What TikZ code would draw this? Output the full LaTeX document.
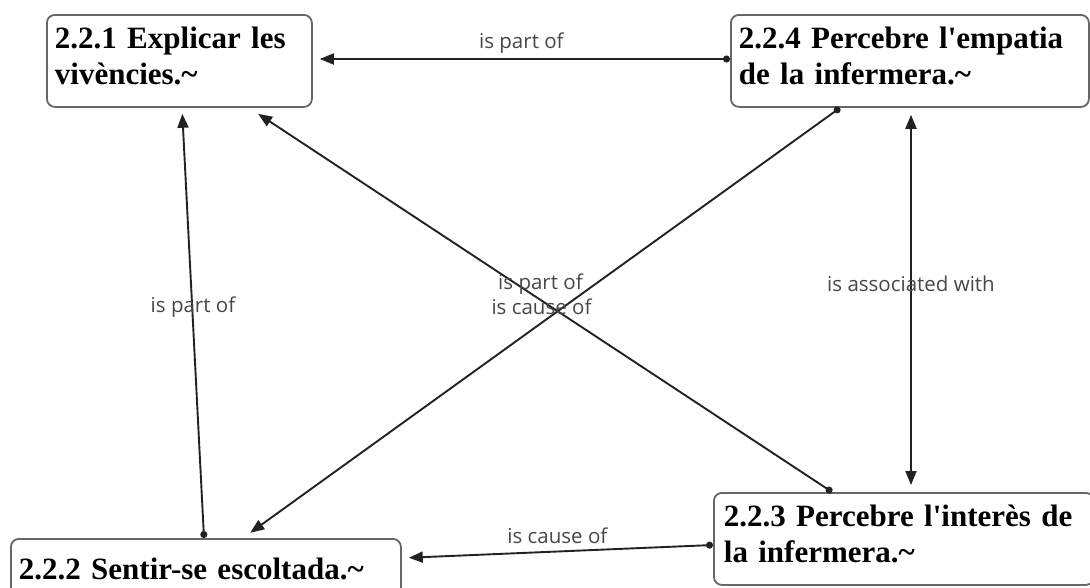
\documentclass[tikz,border=0pt]{standalone}
\usepackage{fontspec}
\setmainfont{Liberation Serif}
\newfontfamily\labfont{Open Sans}
\usetikzlibrary{arrows.meta,calc}
\definecolor{boxline}{HTML}{666666}
\definecolor{linkline}{HTML}{222222}
\definecolor{labtext}{HTML}{474747}
% depth strut on the last line keeps two-line texts centred on their caps
\newcommand\lastdepth{\rule[-11pt]{0pt}{0pt}}
\newcommand\apos{\textquotesingle}
\tikzset{
  concept/.style={draw=boxline, line width=1.8pt, rounded corners=8pt, fill=white,
    anchor=north west, align=left, inner xsep=8pt, inner ysep=0pt,
    font=\fontsize{31}{36}\selectfont\bfseries, text=black},
  link/.style={draw=linkline, line width=1.9pt,
    {Circle[length=7pt]}-{Triangle[length=14pt,width=11pt]}},
  bilink/.style={draw=linkline, line width=1.9pt,
    {Triangle[length=14pt,width=11pt]}-{Triangle[length=14pt,width=11pt]}},
  lbl/.style={midway, yshift=16pt, inner sep=0pt, text=labtext,
    font=\labfont\fontsize{20.5}{24}\selectfont}
}
\begin{document}
\begin{tikzpicture}[x=1pt,y=-1pt]
\useasboundingbox (0,0) rectangle (1090,587);
\clip (0,0) rectangle (1090,587);

% concepts
\node[concept, text width=249pt, minimum height=92pt] (n221) at (46,14)
  {2.2.1 Explicar les\\vivències.\textasciitilde\lastdepth};
\node[concept, text width=342pt, minimum height=92pt] (n224) at (730,14)
  {2.2.4 Percebre l\apos empatia\\de la infermera.\textasciitilde\lastdepth};
\node[concept, text width=374pt, minimum height=60pt] (n222) at (10,538)
  {2.2.2 Sentir-se escoltada.\textasciitilde};
\node[concept, text width=360pt, minimum height=92pt, inner xsep=10pt] (n223) at (713,492)
  {2.2.3 Percebre l\apos interès de\\la infermera.\textasciitilde\lastdepth};

% relations
\draw[link, shorten >=7pt] ($(n224.north west)+(0,45)$) -- node[lbl]{is part of}
  ($(n221.north east)+(0,45)$);
\draw[link, shorten >=6pt] ($(n222.north west)+(194,0)$) -- node[lbl]{is part of}
  ($(n221.south west)+(136,0)$);
\draw[link, shorten >=11pt] ($(n223.north west)+(119,0)$) -- node[lbl]{is part of}
  ($(n221.south west)+(203,0)$);
\draw[link, shorten >=9pt] ($(n224.south west)+(110,0)$) -- node[lbl]{is cause of}
  ($(n222.north west)+(233,0)$);
\draw[link, shorten >=7pt] ($(n223.north west)+(0,53)$) -- node[lbl]{is cause of}
  ($(n222.north east)+(0,20)$);
\draw[bilink, shorten <=7pt, shorten >=7pt] ($(n224.south west)+(181,0)$) --
  node[lbl, yshift=0pt]{is associated with} ($(n223.north west)+(198,0)$);
\end{tikzpicture}
\end{document}
